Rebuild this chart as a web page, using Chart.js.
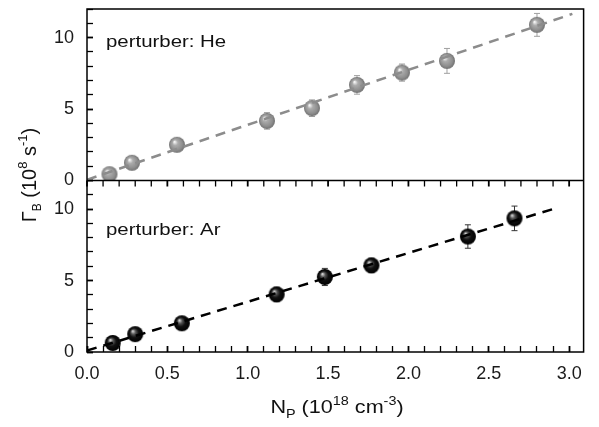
<!DOCTYPE html>
<html>
<head>
<meta charset="utf-8">
<script src="https://cdn.jsdelivr.net/npm/chart.js@4.4.1/dist/chart.umd.min.js"></script>
<style>
  html, body { margin: 0; padding: 0; background: #fff; }
  #wrap { width: 599px; height: 427px; position: relative; }
</style>
</head>
<body>
<div id="wrap"><canvas id="chart"></canvas></div>
<script>
// data (N_P in 1e18 cm^-3, Gamma_B in 1e8 s^-1)
const heX = [0.14, 0.28, 0.56, 1.12, 1.40, 1.68, 1.96, 2.24, 2.80];
const heY = [0.44, 1.24, 2.50, 4.17, 5.06, 6.69, 7.55, 8.37, 10.89];
const heErr = [0.3, 0.3, 0.3, 0.58, 0.58, 0.65, 0.6, 0.87, 0.8];

const arX = [0.16, 0.30, 0.59, 1.18, 1.48, 1.77, 2.37, 2.66];
const arY = [0.63, 1.25, 2.01, 4.03, 5.25, 6.06, 8.08, 9.35];
const arErr = [0.25, 0.3, 0.3, 0.5, 0.6, 0.5, 0.82, 0.86];

// linear fits (dashed)
const heFitX = [0.0, 3.02];
const heFitY = [0.05, 11.66];
const arFitX = [0.0, 2.92];
const arFitY = [0.1, 10.07];

const xTicks = [0, 0.5, 1, 1.5, 2, 2.5, 3];
const yTicks = [0, 5, 10];

const FONT = '"Liberation Sans", Arial, sans-serif';

// minor tick positions: every 0.1 on x, every 1 on y
const xMinor = [];
for (let k = 0; k <= 30; k++) xMinor.push(k / 10);
const yMinor = [];
for (let v = 0; v <= 12; v++) yMinor.push(v);

const isMajor = (v, list) => list.some(m => Math.abs(m - v) < 1e-6);

function pts(xs, ys) {
  return xs.map((x, i) => ({ x: x, y: ys[i] }));
}

// little shaded ball used as point style
function sphere(stops) {
  const r = 8;
  const c = document.createElement('canvas');
  c.width = c.height = 2 * r + 2;
  const g = c.getContext('2d');
  const cx = r + 1, cy = r + 1;
  const grad = g.createRadialGradient(cx - 2.5, cy - 3, 0.5, cx, cy, r);
  stops.forEach(s => grad.addColorStop(s[0], s[1]));
  g.fillStyle = grad;
  g.beginPath();
  g.arc(cx, cy, r, 0, Math.PI * 2);
  g.fill();
  return c;
}

const heBall = sphere([[0, '#f4f4f4'], [0.3, '#acacac'], [0.75, '#8e8e8e'], [1, '#707070']]);
const arBall = sphere([[0, '#d0d0d0'], [0.25, '#555'], [0.55, '#111'], [1, '#000']]);

// error bars, drawn under the balls
const errorBars = {
  id: 'errorBars',
  beforeDatasetsDraw(chart) {
    const ctx = chart.ctx;
    chart.data.datasets.forEach((ds, i) => {
      if (!ds.err) return;
      const ys = chart.scales[ds.yAxisID];
      const meta = chart.getDatasetMeta(i);
      ctx.save();
      ctx.strokeStyle = ds.errColor;
      ctx.lineWidth = 1;
      meta.data.forEach((p, j) => {
        const v = ds.data[j].y;
        const y1 = ys.getPixelForValue(v - ds.err[j]);
        const y2 = ys.getPixelForValue(v + ds.err[j]);
        ctx.beginPath();
        ctx.moveTo(p.x, y1); ctx.lineTo(p.x, y2);
        ctx.moveTo(p.x - 3, y1); ctx.lineTo(p.x + 3, y1);
        ctx.moveTo(p.x - 3, y2); ctx.lineTo(p.x + 3, y2);
        ctx.stroke();
      });
      ctx.restore();
    });
  }
};

// draws a string made of pieces with sub/superscripts, returns width
function richText(ctx, parts, x, y, draw) {
  let w = 0;
  parts.forEach(p => {
    ctx.font = p.size + 'px ' + FONT;
    if (draw) ctx.fillText(p.t, x + w, y + (p.dy || 0));
    w += ctx.measureText(p.t).width;
  });
  return w;
}

// the source figure is a bit wide for its height, so text gets stretched
const STRETCH = 1.2;

function wideText(ctx, parts, cx, y, centered) {
  const w = richText(ctx, parts, 0, 0, false);
  ctx.save();
  ctx.translate(cx, y);
  ctx.scale(STRETCH, 1);
  richText(ctx, parts, centered ? -w / 2 : 0, 0, true);
  ctx.restore();
}

// frame, divider ticks, panel labels and axis titles
const decorations = {
  id: 'decorations',
  afterDraw(chart) {
    const ctx = chart.ctx;
    const a = chart.chartArea;
    const xs = chart.scales.x;
    const yHe = chart.scales.yHe;
    const yAr = chart.scales.yAr;
    const mid = yHe.bottom;
    ctx.save();
    ctx.setLineDash([]);
    ctx.globalAlpha = 1;
    ctx.strokeStyle = '#000';
    ctx.lineWidth = 1.5;
    ctx.strokeRect(a.left, a.top, a.right - a.left, a.bottom - a.top);
    ctx.beginPath();
    ctx.moveTo(a.left, mid);
    ctx.lineTo(a.right, mid);
    ctx.stroke();

    // ticks hanging from the divider into the lower panel
    xMinor.forEach(v => {
      const px = xs.getPixelForValue(v);
      ctx.lineWidth = isMajor(v, xTicks) ? 1.8 : 1.3;
      ctx.beginPath();
      ctx.moveTo(px, mid);
      ctx.lineTo(px, mid + 6);
      ctx.stroke();
    });

    ctx.fillStyle = '#111';
    ctx.textBaseline = 'alphabetic';
    wideText(ctx, [{ t: 'perturber: He', size: 17 }], a.left + 19, yHe.top + 38, false);
    wideText(ctx, [{ t: 'perturber: Ar', size: 17 }], a.left + 19, yAr.top + 54, false);

    // x title
    wideText(ctx, [
      { t: 'N', size: 18 }, { t: 'P', size: 12, dy: 5 },
      { t: ' (10', size: 18 }, { t: '18', size: 12, dy: -8 },
      { t: ' cm', size: 18 }, { t: '-3', size: 12, dy: -8 },
      { t: ')', size: 18 }
    ], 337, 413, true);

    // y title (rotated)
    const yt = [
      { t: '\u0393', size: 20 }, { t: 'B', size: 12, dy: 5 },
      { t: ' (10', size: 20 }, { t: '8', size: 13, dy: -9 },
      { t: ' s', size: 20 }, { t: '-1', size: 13, dy: -9 },
      { t: ')', size: 20 }
    ];
    const yw = richText(ctx, yt, 0, 0, false);
    ctx.translate(36, 175);
    ctx.rotate(-Math.PI / 2);
    richText(ctx, yt, -yw / 2, 0, true);
    ctx.restore();
  }
};

// the axes draw their own tick marks; negative length turns them inward
function panelAxis() {
  return {
    type: 'linear',
    position: 'left',
    stack: 'panels',
    stackWeight: 1,
    min: 0,
    max: 12,
    grid: {
      display: true,
      drawOnChartArea: false,
      drawTicks: true,
      tickLength: -6,
      tickColor: '#000',
      tickWidth: c => isMajor(c.tick.value, yTicks) ? 1.8 : 1.3
    },
    border: { display: false },
    afterBuildTicks: s => { s.ticks = yMinor.map(v => ({ value: v })); },
    afterFit: s => {
      s.width = 87;
      s.paddingTop = 0;
      s.paddingBottom = 0;
    },
    ticks: {
      autoSkip: false,
      padding: 19,
      color: '#1a1a1a',
      font: { family: FONT, size: 18 },
      callback: v => isMajor(v, yTicks) ? String(v) : ''
    }
  };
}

new Chart(document.getElementById('chart'), {
  type: 'scatter',
  data: {
    datasets: [
      {
        label: 'He fit',
        data: pts(heFitX, heFitY),
        yAxisID: 'yHe',
        showLine: true,
        borderColor: '#8c8c8c',
        borderWidth: 2.5,
        borderDash: [10, 7],
        pointRadius: 0
      },
      {
        label: 'He',
        data: pts(heX, heY),
        yAxisID: 'yHe',
        err: heErr,
        errColor: '#a0a0a0',
        pointStyle: heBall,
        pointRadius: 8
      },
      {
        label: 'Ar fit',
        data: pts(arFitX, arFitY),
        yAxisID: 'yAr',
        showLine: true,
        borderColor: '#000',
        borderWidth: 2.5,
        borderDash: [10, 7],
        pointRadius: 0
      },
      {
        label: 'Ar',
        data: pts(arX, arY),
        yAxisID: 'yAr',
        err: arErr,
        errColor: '#333',
        pointStyle: arBall,
        pointRadius: 8
      }
    ]
  },
  options: {
    responsive: true,
    maintainAspectRatio: false,
    animation: false,
    layout: { padding: { top: 7, right: 12, left: 0, bottom: 0 } },
    plugins: {
      legend: { display: false },
      tooltip: { enabled: false }
    },
    scales: {
      x: {
        type: 'linear',
        min: 0,
        max: 3.09,
        grid: {
          display: true,
          drawOnChartArea: false,
          drawTicks: true,
          tickLength: -6,
          tickColor: '#000',
          tickWidth: c => isMajor(c.tick.value, xTicks) ? 1.8 : 1.3
        },
        border: { display: false },
        afterBuildTicks: s => { s.ticks = xMinor.map(v => ({ value: v })); },
        afterFit: s => { s.height = 75; },
        ticks: {
          autoSkip: false,
          maxRotation: 0,
          padding: 17,
          color: '#1a1a1a',
          font: { family: FONT, size: 18 },
          callback: v => isMajor(v, xTicks) ? v.toFixed(1) : ''
        }
      },
      // stacked panels: the last one listed ends up on top
      yAr: panelAxis(),
      yHe: panelAxis()
    }
  },
  plugins: [errorBars, decorations]
});
</script>
</body>
</html>
